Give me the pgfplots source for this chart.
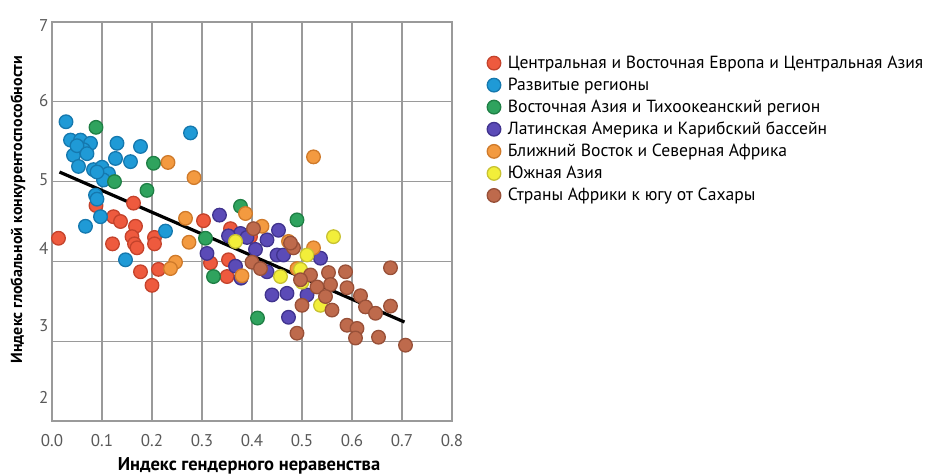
\documentclass[border=0pt]{standalone}
\usepackage{fontspec}
\setmainfont{PT Sans}
\usepackage{pgfplots}
\pgfplotsset{compat=1.18}

\definecolor{redF}{HTML}{EE5A3E}  \definecolor{redD}{HTML}{C4432C}
\definecolor{bluF}{HTML}{1F9AD6}  \definecolor{bluD}{HTML}{1578AE}
\definecolor{grnF}{HTML}{2FA35E}  \definecolor{grnD}{HTML}{1F7F45}
\definecolor{purF}{HTML}{5B4BB7}  \definecolor{purD}{HTML}{40338E}
\definecolor{orgF}{HTML}{F39A40}  \definecolor{orgD}{HTML}{CF7A2A}
\definecolor{yelF}{HTML}{F2EE3A}  \definecolor{yelD}{HTML}{C8C232}
\definecolor{brnF}{HTML}{BE6A4C}  \definecolor{brnD}{HTML}{985038}
\definecolor{gridc}{HTML}{9A9A9A}

\pgfplotsset{
  pt/.style={only marks, mark=*, mark size=6.8pt,
    mark options={fill=#1F, draw=#1D, line width=1.3pt}},
}

\begin{document}
\begin{tikzpicture}
\useasboundingbox (-52pt,-55pt) rectangle (882pt,421pt);
\begin{axis}[
    scale only axis,
    width=400pt, height=399pt,
    xmin=0, xmax=0.8, ymin=2, ymax=7,
    xtick={0,0.1,0.2,0.3,0.4,0.5,0.6,0.7,0.8},
    xticklabels={0.0,0.1,0.2,0.3,0.4,0.5,0.6,0.7,0.8},
    ytick={2.29,3.20,4.165,5.02,6.02,6.96},
    yticklabels={2,3,4,5,6,7},
    extra y ticks={3,4,5,6},
    extra y tick labels={},
    extra y tick style={grid=major},
    xmajorgrids,
    major tick length=0pt,
    grid style={gridc, line width=1.2pt},
    axis line style={gridc, line width=1.2pt},
    tick label style={font=\fontsize{17}{20}\selectfont, text=black!65},
    xticklabel style={yshift=-10pt},
    /pgf/number format/assume math mode=true,
    xlabel={Индекс гендерного неравенства},
    ylabel={Индекс глобальной конкурентоспособности},
    xlabel style={font=\fontsize{18.5}{22}\selectfont\bfseries,
      at={(axis description cs:0.4925,-0.113)}, anchor=center},
    ylabel style={font=\fontsize{16}{19}\selectfont\bfseries,
      at={(axis description cs:-0.085,0.53)}, anchor=center},
    legend style={at={(1.08,0.925)}, anchor=north west, draw=none, fill=none,
      font=\fontsize{17.6}{20}\selectfont, row sep=4pt, column sep=5pt},
    legend cell align=left,
]
% Центральная и Восточная Европа и Центральная Азия
\addplot[pt=red] coordinates {
 (0.013,4.29) (0.088,4.70) (0.123,4.56) (0.137,4.50) (0.163,4.73)
 (0.167,4.44) (0.121,4.22) (0.160,4.31) (0.165,4.22) (0.170,4.17)
 (0.205,4.30) (0.205,4.22) (0.177,3.87) (0.213,3.90) (0.200,3.70)
 (0.303,4.51) (0.317,3.98) (0.353,4.02) (0.350,3.81) (0.357,4.41)
 (0.397,4.31)};
\addlegendentry{Центральная и Восточная Европа и Центральная Азия}
% Развитые регионы
\addplot[pt=blu] coordinates {
 (0.028,5.75) (0.037,5.52) (0.057,5.52) (0.077,5.48) (0.063,5.40)
 (0.043,5.33) (0.053,5.19) (0.083,5.15) (0.100,5.18) (0.113,5.10)
 (0.103,5.02) (0.130,5.48) (0.127,5.29) (0.157,5.25) (0.177,5.44)
 (0.277,5.61) (0.087,4.83) (0.097,4.56) (0.067,4.44) (0.227,4.38)
 (0.147,4.02) (0.050,5.45) (0.070,5.35) (0.090,5.12) (0.090,4.78)};
\addlegendentry{Развитые регионы}
% Восточная Азия и Тихоокеанский регион
\addplot[pt=grn] coordinates {
 (0.088,5.68) (0.203,5.23) (0.125,5.00) (0.190,4.89) (0.377,4.69)
 (0.307,4.29) (0.323,3.81) (0.490,4.52) (0.411,3.29)};
\addlegendentry{Восточная Азия и Тихоокеанский регион}
% Латинская Америка и Карибский бассейн
\addplot[pt=pur] coordinates {
 (0.335,4.58) (0.453,4.39) (0.430,4.27) (0.407,4.15) (0.310,4.10)
 (0.367,3.94) (0.430,3.87) (0.450,4.08) (0.537,4.04) (0.440,3.58)
 (0.470,3.60) (0.510,3.58) (0.473,3.30) (0.378,3.79) (0.377,4.35)
 (0.353,4.32) (0.463,4.08) (0.390,4.30)};
\addlegendentry{Латинская Америка и Карибский бассейн}
% Ближний Восток и Северная Африка
\addplot[pt=org] coordinates {
 (0.232,5.24) (0.284,5.05) (0.267,4.54) (0.274,4.24) (0.247,3.99)
 (0.237,3.91) (0.387,4.60) (0.523,5.31) (0.473,4.25) (0.523,4.17)
 (0.380,3.82) (0.490,3.91) (0.420,4.44)};
\addlegendentry{Ближний Восток и Северная Африка}
% Южная Азия
\addplot[pt=yel] coordinates {
 (0.563,4.31) (0.510,4.08) (0.497,3.90) (0.457,3.81) (0.500,3.74)
 (0.537,3.45) (0.367,4.25)};
\addlegendentry{Южная Азия}
% Страны Африки к югу от Сахары
\addplot[pt=brn] coordinates {
 (0.677,3.92) (0.587,3.87) (0.553,3.86) (0.517,3.83) (0.483,4.17)
 (0.590,3.67) (0.557,3.71) (0.530,3.68) (0.617,3.57) (0.547,3.56)
 (0.627,3.43) (0.647,3.35) (0.677,3.44) (0.500,3.45) (0.560,3.39)
 (0.490,3.10) (0.590,3.20) (0.610,3.16) (0.607,3.04) (0.653,3.05)
 (0.707,2.95) (0.403,4.41) (0.400,3.99) (0.417,3.91) (0.477,4.23)
 (0.497,3.77)};
\addlegendentry{Страны Африки к югу от Сахары}
% линия тренда
\addplot[black, line width=3.2pt, forget plot] coordinates {(0.015,5.12) (0.705,3.24)};
\end{axis}
\end{tikzpicture}
\end{document}
